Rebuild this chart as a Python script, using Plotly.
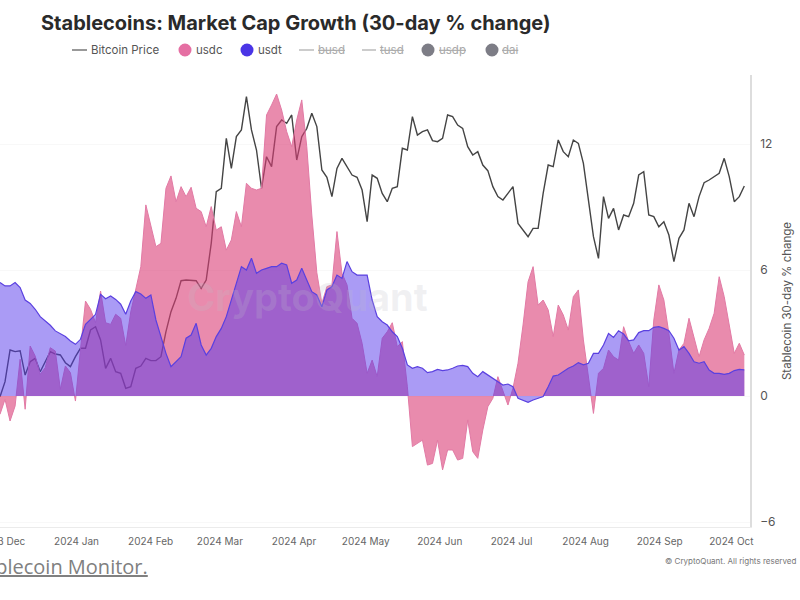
import pandas as pd
import plotly.graph_objects as go

# ---- data ----
dates = pd.date_range("2023-11-30", periods=149, freq="3030min")

usdt = [5.40,5.24,5.24,5.40,5.16,4.57,4.41,4.13,3.78,3.57,3.37,3.10,2.98,2.83,2.62,2.46,2.70,3.41,3.65,3.89,4.84,4.63,4.76,4.60,4.37,3.89,4.52,
        4.97,4.86,4.65,4.81,3.62,2.83,2.03,1.40,1.63,1.87,2.75,2.90,3.46,2.43,1.95,2.27,2.83,3.22,3.78,4.57,5.37,6.16,6.00,6.56,
        5.84,6.00,6.08,6.16,6.16,6.32,6.24,5.37,5.52,6.08,5.52,4.97,4.81,4.25,5.05,5.21,5.76,5.60,6.40,5.92,5.76,5.76,5.76,4.57,3.78,
        3.54,3.38,3.06,2.83,2.27,1.48,1.32,1.40,1.32,1.11,1.16,1.27,1.21,1.24,1.32,1.43,1.46,1.40,1.08,0.92,1.16,1.00,0.84,0.68,0.52,
        0.57,0.44,-0.11,-0.19,-0.30,-0.19,-0.11,-0.03,0.44,0.95,1.00,1.16,1.32,1.43,1.59,1.48,1.56,2.03,2.03,2.43,2.98,2.79,3.11,2.95,2.63,
        2.67,3.02,3.11,3.11,3.27,3.30,3.22,3.11,2.75,2.19,2.35,2.03,1.63,1.56,1.63,1.24,1.08,1.08,1.03,1.08,1.21,1.27,1.24]

usdc = [-0.87,-0.16,-1.19,-0.48,1.75,-0.63,2.38,1.90,1.03,1.35,2.30,2.14,0.32,1.43,1.11,-0.24,2.22,4.52,4.13,3.49,5.00,3.49,3.41,3.89,3.70,2.40,4.00,
        5.05,6.16,9.10,8.14,7.11,7.27,9.89,10.48,9.25,9.97,9.49,9.94,8.94,8.78,8.06,9.02,7.90,8.06,6.95,7.43,8.78,8.06,10.13,9.89,
        9.81,9.89,13.38,13.86,14.38,13.62,12.59,11.87,13.14,14.10,11.87,8.62,5.87,4.41,5.21,5.29,7.83,5.84,5.29,3.70,3.46,2.51,1.08,1.71,0.92,
        2.75,3.06,3.49,2.35,2.59,0.44,-2.41,-2.25,-2.10,-3.29,-3.21,-2.10,-3.52,-2.57,-2.57,-3.05,-2.97,-1.14,-2.65,-2.97,-1.62,-0.51,-0.11,0.92,0.29,
        -0.43,0.37,1.56,3.38,5.44,6.16,4.33,4.57,4.10,2.83,4.33,3.86,3.14,4.73,5.05,2.67,1.00,-0.83,1.08,1.32,2.19,1.87,1.71,3.30,2.59,
        2.03,2.43,2.03,0.44,3.62,5.29,4.57,2.98,1.08,2.19,2.51,3.70,2.83,1.87,2.67,3.22,3.94,5.68,4.73,3.30,2.03,2.51,1.95]

btc = [37800,39560,43250,43060,43170,40330,41890,42280,40720,41890,43060,42780,42670,41770,41310,42470,43450,43450,45590,45970,44420,41110,42280,40720,40530,38780,38970,
       41110,41380,42280,42010,42010,42470,45390,47730,49280,51340,51420,51420,51340,50450,51420,55700,61730,62120,67950,64450,68150,68930,72820,68930,
       66590,62120,65810,64650,69320,70090,69700,70680,65420,68150,69120,70870,69320,64260,63400,61150,64450,65620,64650,63670,63400,61920,58230,63670,63290,
       61530,60560,62120,62310,66790,66590,70480,68340,68730,68930,67680,67560,67950,70680,70480,69510,69120,66980,66010,66400,64840,64180,62310,61150,60760,
       61530,62310,58030,57260,56480,57450,57450,61530,64840,64650,67760,66400,65810,67760,67370,65040,60950,56480,53950,61150,58620,59780,57260,59010,58810,
       60370,63670,64060,59010,58810,57640,58230,56670,53560,56280,57260,60370,58810,61150,62780,63090,63480,63870,65620,63480,60560,61150,62390]

first_tick = ("2023-12-01", "2023 Dec")
tick_dates = ["2024-01-01","2024-02-01","2024-03-01","2024-04-01","2024-05-01",
              "2024-06-01","2024-07-01","2024-08-01","2024-09-01","2024-10-01"]
tick_labels = ["2024 Jan","2024 Feb","2024 Mar","2024 Apr","2024 May",
               "2024 Jun","2024 Jul","2024 Aug","2024 Sep","2024 Oct"]
y_ticks = [-6, 0, 6, 12]

# ---- page geometry helpers (pixels -> paper) ----
L, R, T, B = 0, 750, 75, 527
px = lambda x: (x - L) / (R - L)
py = lambda y: (B - y) / (B - T)

fig = go.Figure()
fig.add_trace(go.Scatter(x=dates, y=btc, name="Bitcoin Price", yaxis="y", mode="lines",
                         line=dict(color="#444444", width=1.4), showlegend=False))
fig.add_trace(go.Scatter(x=dates, y=usdc, name="usdc", yaxis="y2", mode="lines", fill="tozeroy",
                         line=dict(color="#e27aa5", width=1), fillcolor="rgba(218,62,118,0.6)", showlegend=False))
fig.add_trace(go.Scatter(x=dates, y=usdt, name="usdt", yaxis="y2", mode="lines", fill="tozeroy",
                         line=dict(color="#5a40e0", width=1.2), fillcolor="rgba(85,55,235,0.5)", showlegend=False))

shapes, annos = [], []

def legend_line(x0, x1, color):
    shapes.append(dict(type="line", xref="paper", yref="paper", x0=px(x0), x1=px(x1), y0=py(50), y1=py(50),
                       line=dict(color=color, width=1.2)))

def legend_dot(cx, color):
    shapes.append(dict(type="circle", xref="paper", yref="paper", x0=px(cx-6.5), x1=px(cx+6.5),
                       y0=py(56.5), y1=py(43.5), fillcolor=color, line=dict(width=0)))

def legend_text(x, text, color, struck=False):
    annos.append(dict(text=text, xref="paper", yref="paper", x=px(x), y=py(50), xanchor="left", yanchor="middle",
                      showarrow=False,
                      font=dict(family="Inter", size=11.5, color=color,
                                lineposition="through" if struck else "none")))

legend_line(72, 87, "#555555");   legend_text(89, "Bitcoin Price", "#555555")
legend_dot(185, "#e56fa3");       legend_text(194, "usdc", "#555555")
legend_dot(247, "#4a35e6");       legend_text(256, "usdt", "#555555")
legend_line(299, 314, "#aaaaaa"); legend_text(316, "busd", "#aaaaaa", True)
legend_line(362, 376, "#aaaaaa"); legend_text(378, "tusd", "#aaaaaa", True)
legend_dot(428, "#7d7d86");       legend_text(437, "usdp", "#aaaaaa", True)
legend_dot(492, "#7d7d86");       legend_text(500, "dai", "#aaaaaa", True)

annos.append(dict(text=first_tick[1], xref="x", yref="paper", x=first_tick[0], y=py(541),
                  xanchor="center", yanchor="middle", showarrow=False,
                  font=dict(family="Inter", size=10, color="#666666")))
annos.append(dict(text="CryptoQuant", xref="paper", yref="paper", x=px(307), y=py(297), showarrow=False,
                  font=dict(family="Inter", size=38, color="rgba(190,190,200,0.22)", weight=700)))
annos.append(dict(text="<u>Stablecoin Monitor.</u>", xref="paper", yref="paper", x=px(150), y=py(566),
                  xanchor="right", yanchor="middle", showarrow=False,
                  font=dict(family="Open Sans", size=20, color="#808080")))
annos.append(dict(text="© CryptoQuant. All rights reserved", xref="paper", yref="paper", x=px(798), y=py(561),
                  xanchor="right", yanchor="middle", showarrow=False,
                  font=dict(family="Inter", size=8, color="#777777")))

fig.update_layout(
    width=800, height=600, autosize=False,
    margin=dict(l=L, r=800-R, t=T, b=600-B),
    paper_bgcolor="white", plot_bgcolor="white",
    showlegend=False,
    title=dict(text="Stablecoins: Market Cap Growth (30-day % change)", x=41/800, xanchor="left",
               y=1-23/600, yanchor="middle", font=dict(family="Inter", size=20, color="#2a2a2a", weight=700)),
    xaxis=dict(type="date", range=["2023-11-30 00:00", "2024-10-08 19:00"],
               tickmode="array", tickvals=tick_dates, ticktext=tick_labels,
               tickfont=dict(family="Inter", size=10, color="#666666"),
               showgrid=False, zeroline=False, showline=True, linecolor="#ebebeb", linewidth=1,
               ticks="", ticklabelstandoff=5),
    yaxis=dict(range=[22596, 75344], visible=False, showgrid=False, zeroline=False),
    yaxis2=dict(overlaying="y", side="right", range=[-6.238, 15.286],
                tickmode="array", tickvals=y_ticks, ticks="", ticklabelstandoff=6,
                tickfont=dict(family="Inter", size=12, color="#555555"),
                showgrid=True, gridcolor="#f8f8f8", zeroline=False,
                showline=True, linecolor="#dddddd", linewidth=1.5,
                title=dict(text="Stablecoin 30-day % change", standoff=8,
                           font=dict(family="Inter", size=11.5, color="#555555"))),
    shapes=shapes, annotations=annos,
)
fig.write_html("out.html", config={"displayModeBar": False},
               post_script="document.body.style.margin='0';document.body.style.overflow='hidden';")
